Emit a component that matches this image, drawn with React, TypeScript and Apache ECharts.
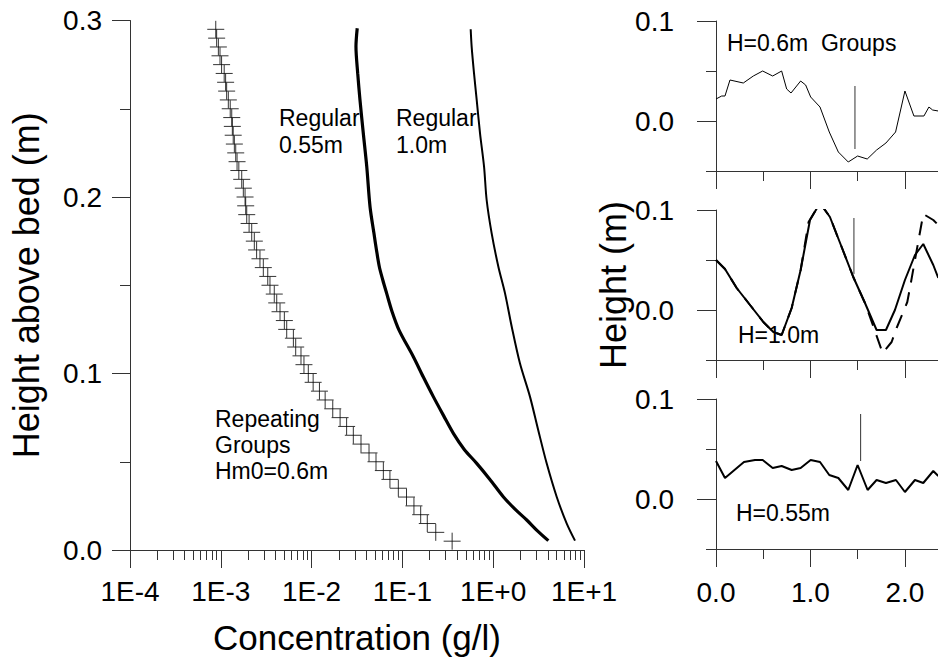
import React, { useEffect, useRef } from 'react';
import * as echarts from 'echarts';

// ---- Left panel: concentration profiles ----
const crossHeights = [
  0.005, 0.010, 0.015, 0.020, 0.025, 0.030, 0.035, 0.040, 0.045, 0.050,
  0.055, 0.060, 0.065, 0.070, 0.075, 0.080, 0.085, 0.090, 0.095, 0.100,
  0.105, 0.110, 0.115, 0.120, 0.125, 0.130, 0.135, 0.140, 0.145, 0.150,
  0.155, 0.160, 0.165, 0.170, 0.175, 0.180, 0.185, 0.190, 0.195, 0.200,
  0.205, 0.210, 0.215, 0.220, 0.225, 0.230, 0.235, 0.240, 0.245, 0.250,
  0.255, 0.260, 0.265, 0.270, 0.275, 0.280, 0.285, 0.290, 0.295,
];
const crossConc = [
  0.353, 0.233, 0.188, 0.159, 0.134, 0.111, 0.0902, 0.0729, 0.0617, 0.0512,
  0.0429, 0.0350, 0.0288, 0.0243, 0.0206, 0.0171, 0.0141, 0.0122, 0.0104, 0.0092,
  0.00824, 0.00764, 0.00668, 0.00630, 0.00532, 0.00501, 0.00449, 0.00413, 0.00388, 0.00348,
  0.00329, 0.00294, 0.00270, 0.00248, 0.00234, 0.00219, 0.00205, 0.00193, 0.00188, 0.00185,
  0.00177, 0.00170, 0.00158, 0.00151, 0.00146, 0.00141, 0.00137, 0.00134, 0.00132, 0.00127,
  0.00121, 0.00116, 0.00113, 0.00109, 0.00102, 0.00098, 0.00094, 0.00090, 0.00088,
];
const reg055Heights = [0.2956, 0.2852, 0.2700, 0.2550, 0.2361, 0.2172, 0.1945, 0.1794, 0.1700, 0.1605, 0.1530, 0.1454, 0.1350, 0.1246, 0.1095, 0.0980, 0.0869, 0.0760, 0.0661, 0.0570, 0.0491, 0.0400, 0.0302, 0.0230, 0.0170, 0.0110, 0.0053];
const reg055Conc = [0.0318, 0.0308, 0.0322, 0.0341, 0.0371, 0.0405, 0.0440, 0.0486, 0.0518, 0.0557, 0.0608, 0.0671, 0.0770, 0.0918, 0.132, 0.170, 0.219, 0.285, 0.364, 0.480, 0.658, 0.920, 1.29, 1.75, 2.34, 3.05, 4.05];
const reg10Heights = [0.2950, 0.2852, 0.2700, 0.2550, 0.2361, 0.2172, 0.1983, 0.1794, 0.1605, 0.1454, 0.1265, 0.1058, 0.0869, 0.0680, 0.0491, 0.0302, 0.0151, 0.0053];
const reg10Conc = [0.565, 0.579, 0.615, 0.658, 0.716, 0.793, 0.847, 0.962, 1.14, 1.35, 1.60, 1.97, 2.54, 3.13, 3.88, 5.00, 6.44, 7.96];

// ---- Right panels: water surface / bed heights ----
const groupsX = [0, 0.06, 0.095, 0.148, 0.289, 0.395, 0.494, 0.600, 0.695, 0.748, 0.794, 0.896, 0.949, 1.002, 1.101, 1.199, 1.295, 1.400, 1.499, 1.601, 1.700, 1.799, 1.901, 2.000, 2.095, 2.201, 2.254, 2.293, 2.353];
const groupsY = [0.022, 0.025, 0.025, 0.041, 0.038, 0.045, 0.050, 0.045, 0.050, 0.032, 0.028, 0.040, 0.036, 0.024, 0.014, -0.011, -0.031, -0.041, -0.035, -0.038, -0.029, -0.022, -0.011, 0.030, 0.005, 0.005, 0.014, 0.011, 0.010];

const h10X = [0, 0.095, 0.219, 0.360, 0.501, 0.607, 0.695, 0.801, 0.896, 0.995, 1.101, 1.206, 1.330, 1.453, 1.577, 1.700, 1.799, 1.894, 2.000, 2.106, 2.194, 2.300, 2.353];
const h10Y = [0.050, 0.041, 0.022, 0.005, -0.012, -0.022, -0.025, 0.002, 0.040, 0.090, 0.107, 0.093, 0.063, 0.033, 0.007, -0.020, -0.020, 0.000, 0.030, 0.055, 0.066, 0.045, 0.032];
const h10DashX = [0, 0.095, 0.219, 0.360, 0.501, 0.607, 0.695, 0.801, 0.896, 0.980, 1.101, 1.206, 1.330, 1.453, 1.577, 1.660, 1.764, 1.859, 1.912, 2.025, 2.053, 2.106, 2.194, 2.300, 2.353];
const h10DashY = [0.050, 0.041, 0.022, 0.005, -0.012, -0.022, -0.025, 0.002, 0.040, 0.088, 0.107, 0.093, 0.063, 0.033, 0.007, -0.015, -0.043, -0.032, -0.018, 0.008, 0.022, 0.050, 0.096, 0.090, 0.085];

const h055X = [0, 0.095, 0.183, 0.296, 0.413, 0.494, 0.600, 0.695, 0.801, 0.896, 1.002, 1.101, 1.199, 1.295, 1.400, 1.499, 1.605, 1.700, 1.799, 1.905, 2.000, 2.106, 2.194, 2.300, 2.353];
const h055Y = [0.038, 0.021, 0.028, 0.037, 0.039, 0.039, 0.031, 0.033, 0.029, 0.031, 0.039, 0.037, 0.024, 0.021, 0.009, 0.034, 0.009, 0.019, 0.016, 0.019, 0.007, 0.019, 0.016, 0.028, 0.023];

const markerX = [1.471, 1.460, 1.531];
const markerLow = [-0.028, 0.036, 0.038];
const markerHigh = [0.035, 0.092, 0.085];

const logTickLabels: Record<string, string> = {
  '-4': '1E-4', '-3': '1E-3', '-2': '1E-2', '-1': '1E-1', '0': '1E+0', '1': '1E+1',
};
const rightYLabels = [0, 0.1];
const rightXLabels = [0, 1, 2];

const FONT = 'Liberation Sans, Arial, sans-serif';
const AXIS = '#333';

const zip = (xs: number[], ys: number[]) => xs.map((x, i) => [x, ys[i]]);
const isOneOf = (v: number, list: number[]) => list.some((t) => Math.abs(t - v) < 1e-6);

export default function App() {
  const ref = useRef<HTMLDivElement>(null);
  useEffect(() => {
    const chart = echarts.init(ref.current!, null, { renderer: 'svg' });
    const lineStyle = { color: AXIS, width: 1 };

    const rightGrids = [
      { left: 716, top: 21, width: 222, height: 150 },
      { left: 716, top: 210, width: 222, height: 150 },
      { left: 716, top: 399, width: 222, height: 150 },
    ];

    const rightX = [1, 2, 3].map((g) => ({
      type: 'value', gridIndex: g, min: 0, max: 2.35, interval: 1, position: 'bottom',
      axisLine: { show: true, onZero: false, lineStyle },
      axisTick: { show: true, length: 18, lineStyle },
      minorTick: { show: true, splitNumber: 2, length: 10, lineStyle },
      splitLine: { show: false },
      axisLabel: {
        show: g === 3, fontSize: 28, color: '#000', fontFamily: FONT, margin: 29,
        formatter: (v: number) => (isOneOf(v, rightXLabels) ? v.toFixed(1) : ''),
      },
    }));

    const rightY: any[] = [];
    [1, 2, 3].forEach((g) => {
      // axis with the short (minor) ticks
      rightY.push({
        type: 'value', gridIndex: g, position: 'left', offset: 0,
        min: -0.05, max: 0.1, interval: 0.05,
        axisLine: { show: true, onZero: false, lineStyle },
        axisTick: { show: true, length: 10, lineStyle },
        axisLabel: { show: false },
        splitLine: { show: false },
      });
      // axis with the long (major) ticks and labels
      rightY.push({
        type: 'value', gridIndex: g, position: 'left', offset: 0,
        min: -0.05, max: 0.1, interval: 0.05,
        axisLine: { show: false, onZero: false },
        axisTick: { show: true, length: 19, lineStyle, customValues: rightYLabels },
        axisLabel: {
          show: true, fontSize: 28, color: '#000', fontFamily: FONT, margin: 42,
          formatter: (v: number) => (isOneOf(v, rightYLabels) ? v.toFixed(1) : ''),
        },
        splitLine: { show: false },
        ...(g === 2
          ? {
              name: 'Height (m)', nameLocation: 'middle', nameGap: 80, nameRotate: 90,
              nameTextStyle: { fontSize: 36, color: '#000', fontFamily: FONT },
            }
          : {}),
      });
    });

    const option: any = {
      animation: false,
      backgroundColor: '#fff',
      textStyle: { fontFamily: FONT },
      grid: [
        { left: 130, top: 20.5, width: 454, height: 529.5, outerBoundsMode: 'none' },
        ...rightGrids.map((g) => ({ ...g, outerBoundsMode: 'none' })),
      ],
      xAxis: [
        {
          type: 'log', logBase: 10, gridIndex: 0, min: 1e-4, max: 10,
          axisLine: { show: true, lineStyle },
          axisTick: { show: true, length: 18, lineStyle },
          minorTick: { show: true, splitNumber: 9, length: 10, lineStyle },
          splitLine: { show: false },
          minorSplitLine: { show: false },
          axisLabel: {
            fontSize: 28, color: '#000', fontFamily: FONT, margin: 27,
            formatter: (v: number) => logTickLabels[String(Math.round(Math.log10(v)))] || '',
          },
          name: 'Concentration (g/l)', nameLocation: 'middle', nameGap: 68,
          nameTextStyle: { fontSize: 35, color: '#000', fontFamily: FONT, lineHeight: 38 },
        },
        ...rightX,
      ],
      yAxis: [
        {
          type: 'value', gridIndex: 0, min: 0, max: 0.3, interval: 0.1,
          axisLine: { show: true, lineStyle },
          axisTick: { show: true, length: 18, lineStyle },
          minorTick: { show: true, splitNumber: 2, length: 10, lineStyle },
          splitLine: { show: false },
          axisLabel: {
            fontSize: 28, color: '#000', fontFamily: FONT, margin: 28,
            formatter: (v: number) => v.toFixed(1),
          },
          name: 'Height above bed (m)', nameLocation: 'middle', nameGap: 86, nameRotate: 90,
          nameTextStyle: { fontSize: 36, color: '#000', fontFamily: FONT },
        },
        ...rightY,
      ],
      series: [
        {
          type: 'scatter', xAxisIndex: 0, yAxisIndex: 0, silent: true,
          symbol: 'path://M5,0L5,10M0,5L10,5', symbolSize: 17,
          itemStyle: { color: '#000', borderColor: '#000', borderWidth: 1 },
          data: zip(crossConc, crossHeights),
        },
        {
          type: 'line', xAxisIndex: 0, yAxisIndex: 0, symbol: 'none', silent: true,
          smooth: 0.3,
          lineStyle: { color: '#000', width: 3.2 },
          data: zip(reg055Conc, reg055Heights),
        },
        {
          type: 'line', xAxisIndex: 0, yAxisIndex: 0, symbol: 'none', silent: true,
          smooth: 0.3,
          lineStyle: { color: '#000', width: 2 },
          data: zip(reg10Conc, reg10Heights),
        },
        {
          type: 'line', xAxisIndex: 1, yAxisIndex: 1, symbol: 'none', silent: true,
          lineStyle: { color: '#000', width: 1 },
          data: zip(groupsX, groupsY),
        },
        {
          type: 'line', xAxisIndex: 2, yAxisIndex: 3, symbol: 'none', silent: true,
          lineStyle: { color: '#000', width: 2, type: [14, 10] },
          data: zip(h10DashX, h10DashY),
        },
        {
          type: 'line', xAxisIndex: 2, yAxisIndex: 3, symbol: 'none', silent: true,
          lineStyle: { color: '#000', width: 2 },
          data: zip(h10X, h10Y),
        },
        {
          type: 'line', xAxisIndex: 3, yAxisIndex: 5, symbol: 'none', silent: true,
          lineStyle: { color: '#000', width: 2 },
          data: zip(h055X, h055Y),
        },
        ...markerX.map((x, i) => ({
          type: 'line', xAxisIndex: i + 1, yAxisIndex: i * 2 + 1, symbol: 'none', silent: true,
          lineStyle: { color: AXIS, width: 1 },
          data: [[x, markerLow[i]], [x, markerHigh[i]]],
        })),
      ],
      graphic: [
        { type: 'text', left: 279, top: 104, style: { text: 'Regular\n0.55m', fontSize: 23, lineHeight: 27, fill: '#000', fontFamily: FONT } },
        { type: 'text', left: 396, top: 104, style: { text: 'Regular\n1.0m', fontSize: 23, lineHeight: 27, fill: '#000', fontFamily: FONT } },
        { type: 'text', left: 215, top: 406, style: { text: 'Repeating\nGroups\nHm0=0.6m', fontSize: 23, lineHeight: 26, fill: '#000', fontFamily: FONT } },
        { type: 'text', left: 727, top: 31, style: { text: 'H=0.6m  Groups', fontSize: 23, fill: '#000', fontFamily: FONT } },
        { type: 'text', left: 738, top: 323, style: { text: 'H=1.0m', fontSize: 23, fill: '#000', fontFamily: FONT } },
        { type: 'text', left: 736, top: 501, style: { text: 'H=0.55m', fontSize: 23, fill: '#000', fontFamily: FONT } },
      ],
    };
    chart.setOption(option);
    return () => chart.dispose();
  }, []);
  return (
    <div
      ref={ref}
      style={{ position: 'fixed', left: 0, top: 0, width: 938, height: 658, background: '#fff' }}
    />
  );
}
